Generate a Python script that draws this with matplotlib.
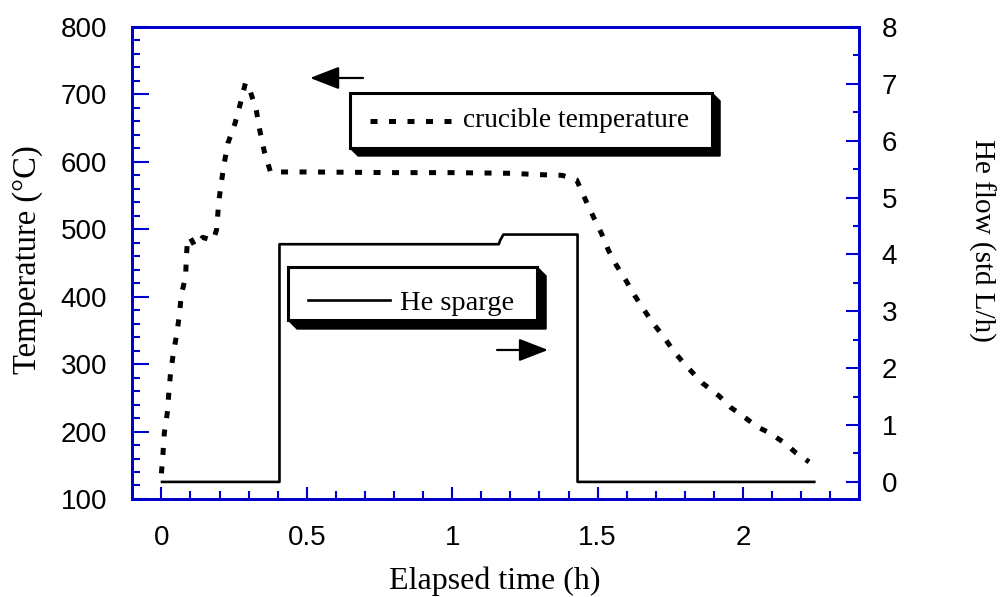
import matplotlib
matplotlib.use("Agg")
import matplotlib.pyplot as plt
from matplotlib.ticker import MultipleLocator, FuncFormatter
from matplotlib.patches import Rectangle, Polygon

# crucible temperature (h, degC)
temp_time = [0.0, 0.005, 0.01, 0.02, 0.025, 0.031, 0.04, 0.052, 0.062, 0.068,
             0.083, 0.086, 0.09, 0.1, 0.115, 0.142, 0.165, 0.179, 0.19, 0.197,
             0.206, 0.216, 0.229, 0.253, 0.27, 0.289, 0.306, 0.326, 0.34, 0.354,
             0.375, 0.5, 0.8, 1.0, 1.2, 1.3, 1.378, 1.428, 1.459, 1.487,
             1.513, 1.537, 1.564, 1.596, 1.627, 1.657, 1.69, 1.728, 1.762, 1.797,
             1.86, 1.917, 1.957, 2.009, 2.049, 2.091, 2.143, 2.183, 2.227]
temp_vals = [138, 165, 198, 227, 254, 285, 313, 343, 373, 402,
             429, 459, 487, 487, 475, 488, 485, 484, 500, 540,
             569, 598, 628, 657, 684, 717, 704, 677, 643, 615,
             585, 585, 584, 584, 583, 581, 580, 573, 543, 517,
             494, 469, 447, 425, 402, 382, 361, 340, 319, 301,
             272, 253, 236, 220, 207, 198, 183, 168, 155]

# He sparge flow (h, std L/h)
he_time = [0.002, 0.406, 0.406, 1.16, 1.165, 1.176, 1.431, 1.431, 2.245]
he_flow = [0, 0, 4.18, 4.18, 4.25, 4.35, 4.35, 0, 0]

serif = "Liberation Serif"
sans = "Liberation Sans"
blue = "#0000CC"

temp_style = dict(color="black", lw=3.6, linestyle=(0, (1.4, 2.3)),
                  dash_capstyle="butt")
he_style = dict(color="black", lw=1.9)

fig = plt.figure(figsize=(10.01, 5.97), dpi=100)
ax = fig.add_axes([0.1322, 0.1642, 0.7263, 0.7906])
ax2 = ax.twinx()

ax.plot(temp_time, temp_vals, **temp_style)
ax2.plot(he_time, he_flow, **he_style)

ax.set_xlim(-0.1, 2.4)
ax.set_ylim(100, 800)
ax2.set_ylim(-0.3, 8)

for a in (ax, ax2):
    for s in a.spines.values():
        s.set_color(blue)
        s.set_linewidth(2)

ax.xaxis.set_major_locator(MultipleLocator(0.5))
ax.xaxis.set_minor_locator(MultipleLocator(0.1))
ax.yaxis.set_major_locator(MultipleLocator(100))
ax.yaxis.set_minor_locator(MultipleLocator(20))
ax2.yaxis.set_major_locator(MultipleLocator(1))
ax2.yaxis.set_minor_locator(MultipleLocator(0.5))
ax.xaxis.set_major_formatter(FuncFormatter(lambda v, p: "%g" % v))

ax.tick_params(axis="x", which="major", direction="in", length=9, width=1.5,
               color=blue, pad=19, labelsize=20, top=False)
ax.tick_params(axis="x", which="minor", direction="in", length=5.5, width=1.5,
               color=blue, top=False)
ax.tick_params(axis="y", which="major", direction="in", length=12, width=1.5,
               color=blue, pad=18, labelsize=20, right=False)
ax.tick_params(axis="y", which="minor", direction="in", length=6, width=1.5,
               color=blue, right=False)
ax2.tick_params(axis="y", which="major", direction="in", length=9.5, width=1.5,
                color=blue, pad=16, labelsize=20)
ax2.tick_params(axis="y", which="minor", direction="in", length=4, width=1.5,
                color=blue)
for lab in ax.get_xticklabels() + ax.get_yticklabels() + ax2.get_yticklabels():
    lab.set_fontfamily(sans)

fig.text(495 / 1001, 1 - 589 / 597, "Elapsed time (h)", family=serif,
         fontsize=23, ha="center", va="baseline")
fig.text(28 / 1001, 1 - 260 / 597, "Temperature (\u00b0C)", family=serif,
         fontsize=23.5, rotation=90, ha="center", va="center")
fig.text(982 / 1001, 1 - 240 / 597, "He flow (std L/h)", family=serif,
         fontsize=21, rotation=270, ha="center", va="center")


def px(x, y):
    return ((x - 132.3) / 727, (499 - y) / 472)


def shadow_box(x0, y0, x1, y1, off):
    pts = [px(x0, y1), px(x0 + off, y1 + off), px(x1 + off, y1 + off),
           px(x1 + off, y0 + off), px(x1, y0)]
    ax2.add_patch(Polygon(pts, closed=True, facecolor="black", edgecolor="black",
                          lw=1, transform=ax2.transAxes, zorder=10))
    (ax0, ay1), (ax1, ay0) = px(x0, y0), px(x1, y1)
    ax2.add_patch(Rectangle((ax0, ay0), ax1 - ax0, ay1 - ay0, facecolor="white",
                            edgecolor="black", lw=2.2, transform=ax2.transAxes,
                            zorder=11))


# legend boxes
shadow_box(350, 93, 712, 148, 8)
(lx0, ly), (lx1, _) = px(370, 121), px(458, 121)
ax2.plot([lx0, lx1], [ly, ly], transform=ax2.transAxes, zorder=12, **temp_style)
tx, ty = px(463, 127)
ax2.text(tx, ty, "crucible temperature", transform=ax2.transAxes, family=serif,
         fontsize=19.7, va="baseline", ha="left", zorder=12)

shadow_box(288, 267, 537, 320, 9)
(lx0, ly), (lx1, _) = px(308, 300), px(390, 300)
ax2.plot([lx0, lx1], [ly, ly], transform=ax2.transAxes, zorder=12, **he_style)
tx, ty = px(400, 310)
ax2.text(tx, ty, "He sparge", transform=ax2.transAxes, family=serif,
         fontsize=20.5, va="baseline", ha="left", zorder=12)

# arrows pointing to the matching axis
arrow = dict(arrowstyle="-|>,head_length=1.8,head_width=0.7", color="black",
             lw=1.6, shrinkA=0, shrinkB=0, mutation_scale=10)
ax2.annotate("", xy=px(310, 78), xytext=px(363, 78), xycoords="axes fraction",
             textcoords="axes fraction", arrowprops=arrow)
ax2.annotate("", xy=px(548, 350), xytext=px(497, 350), xycoords="axes fraction",
             textcoords="axes fraction", arrowprops=arrow)

fig.savefig("out.png", dpi=100)
